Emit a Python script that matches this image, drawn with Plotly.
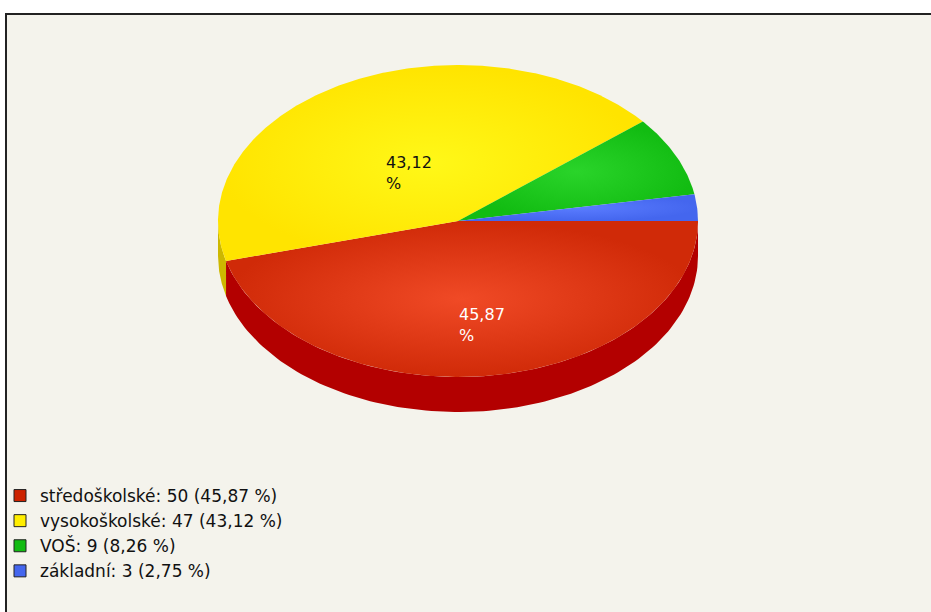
import math
import plotly.graph_objects as go

# ---- data ----
categories = ["středoškolské", "vysokoškolské", "VOŠ", "základní"]
counts = [50, 47, 9, 3]
top_colors = ["#F04A26", "#FFF818", "#2AD42A", "#5A7CFF"]
top_edge_colors = ["#D02A08", "#FFE400", "#12BC12", "#4466EE"]
side_colors = ["#B30000", "#CDB800", "#109010", "#3344BB"]
legend_colors = ["#CC2200", "#FFEE00", "#11BB11", "#4466EE"]
label_colors = ["white", "#111111", "#111111", "#111111"]

W, H = 931, 612
CX, CY = 458, 221      # ellipse centre (pixels)
RX, RY = 240, 156      # ellipse radii
DEPTH = 35             # thickness of the 3D side
FONT = "DejaVu Sans, Liberation Sans, Arial, sans-serif"

total = sum(counts)
pcts = [c / total * 100 for c in counts]


def fmt(v):
    return f"{v:.2f}".replace(".", ",")


def pt(t_deg, dy=0.0):
    t = math.radians(t_deg)
    return CX + RX * math.cos(t), CY - RY * math.sin(t) + dy


# angles: start east, clockwise, in legend order
angles = []
cum = 0.0
for c in counts:
    a0 = -cum / total * 360
    cum += c
    a1 = -cum / total * 360
    angles.append((a0, a1))

fig = go.Figure()

# ---- 3D side walls (front half only: 180..360 deg) ----
for i, (a0, a1) in enumerate(angles):
    lo, hi = a1 % 360, a0 % 360 if a0 % 360 != 0 else 360
    s, e = max(lo, 180), min(hi, 360)
    if e <= s:
        continue
    n = 120
    ts = [s + (e - s) * k / n for k in range(n + 1)]
    xs = [pt(t)[0] for t in ts] + [pt(t, DEPTH)[0] for t in reversed(ts)]
    ys = [pt(t)[1] for t in ts] + [pt(t, DEPTH)[1] for t in reversed(ts)]
    fig.add_trace(go.Scatter(
        x=xs + [xs[0]], y=ys + [ys[0]], mode="lines", fill="toself",
        line=dict(width=0, color=side_colors[i]),
        fillcolor=side_colors[i], hoverinfo="skip", showlegend=False))

# ---- top faces ----
for i, (a0, a1) in enumerate(angles):
    n = max(8, int(abs(a1 - a0) * 2))
    ts = [a0 + (a1 - a0) * k / n for k in range(n + 1)]
    xs = [CX] + [pt(t)[0] for t in ts] + [CX]
    ys = [CY] + [pt(t)[1] for t in ts] + [CY]
    fig.add_trace(go.Scatter(
        x=xs, y=ys, mode="lines", fill="toself",
        line=dict(width=0, color=top_colors[i]),
        fillgradient=dict(type="radial",
                          colorscale=[[0, top_colors[i]], [1, top_edge_colors[i]]]),
        hoverinfo="skip", showlegend=False))

# ---- slice labels ----
for i, (a0, a1) in enumerate(angles):
    if pcts[i] < 10:
        continue
    mid = (a0 + a1) / 2
    x, y = pt(mid)
    x = CX + (x - CX) * 0.52 + 8
    y = CY + (y - CY) * 0.52 + 2
    fig.add_annotation(x=x, y=y, text=f"{fmt(pcts[i])}<br>%", showarrow=False,
                       xanchor="center", yanchor="top", align="left",
                       font=dict(family=FONT, size=16, color=label_colors[i]))

# ---- legend entries ----
for i, cat in enumerate(categories):
    fig.add_trace(go.Scatter(
        x=[None], y=[None], mode="markers",
        marker=dict(symbol="square", size=12, color=legend_colors[i],
                    line=dict(width=1, color="#222222")),
        name=f"{cat}: {counts[i]} ({fmt(pcts[i])} %)", showlegend=True))

# ---- frame ----
fig.add_shape(type="rect", x0=6, y0=14, x1=W + 5, y1=H + 5,
              line=dict(color="#222222", width=2), fillcolor="#F4F3EC", layer="below")

fig.update_layout(
    width=W, height=H,
    margin=dict(l=0, r=0, t=0, b=0),
    paper_bgcolor="white", plot_bgcolor="white",
    xaxis=dict(range=[0, W], visible=False, fixedrange=True),
    yaxis=dict(range=[H, 0], visible=False, fixedrange=True),
    showlegend=True,
    legend=dict(x=0.0, xanchor="left", y=1 - 478 / H, yanchor="top",
                bgcolor="rgba(0,0,0,0)", font=dict(family=FONT, size=17, color="#111111"),
                itemclick=False, itemdoubleclick=False, tracegroupgap=0),
)

fig.write_html("out.html")
